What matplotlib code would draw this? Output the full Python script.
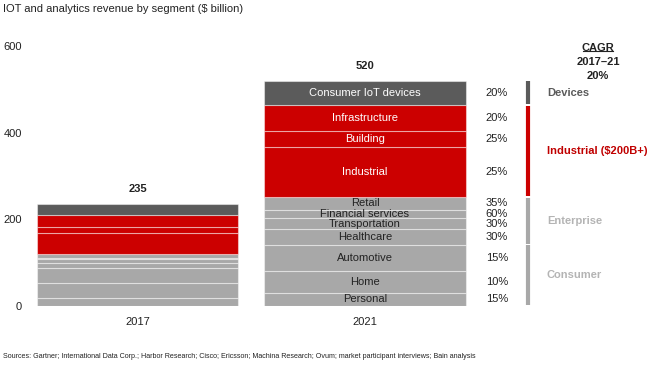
import matplotlib
matplotlib.use("Agg")
from matplotlib import pyplot as plt
from matplotlib.lines import Line2D

plt.rcParams['font.family'] = ['Liberation Sans', 'DejaVu Sans']

#==============================================================================
#                                  Data
#==============================================================================

# segments listed from the top of the stack down
years = ["2017", "2021"]
segments = ["Consumer IoT devices", "Infrastructure", "Building", "Industrial",
            "Retail", "Financial services", "Transportation", "Healthcare",
            "Automotive", "Home", "Personal"]
values2017 = [25, 28, 15, 48, 9, 3, 9, 12, 35, 34, 17]
values2021 = [56, 59, 37, 117, 29, 19, 27, 35, 62, 50, 29]
totals = [235, 520]
cagr = ["20%", "20%", "25%", "25%", "35%", "60%", "30%", "30%", "15%", "10%", "15%"]
groups = ["Devices", "Industrial ($200B+)", "Enterprise", "Consumer"]
groupSizes = [1, 3, 4, 3]  # number of segments in each group

#==============================================================================
#                                  Styles
#==============================================================================

darkGrey = "#5b5b5b"
red = "#cc0000"
lightGrey = "#a8a8a8"
segColors = [darkGrey] + [red] * 3 + [lightGrey] * 7
textColors = ["white"] * 4 + ["#222222"] * 7
groupColors = [darkGrey, "#c00000", "#b4b4b4", "#b4b4b4"]
groupBarColors = [darkGrey, red, lightGrey, lightGrey]

#==============================================================================
#                                  Plot
#==============================================================================

fig = plt.figure(figsize=(6.62, 3.72), dpi=100)
ax = fig.add_axes([30 / 662, 66.5 / 372, 632 / 662, 276.5 / 372])

barWidth = 0.884
allVals = [values2017, values2021]
for i in range(len(years)):
    # stack from the bottom segment (last in list) upward
    bottom = 0
    for j in reversed(range(len(segments))):
        ax.bar(i, allVals[i][j], bottom=bottom, width=barWidth, color=segColors[j],
               edgecolor=(1, 1, 1, 0.45), linewidth=0.8)
        bottom += allVals[i][j]
    ax.annotate(str(totals[i]), (i, bottom), xytext=(0, 7), textcoords="offset points",
                ha="center", va="bottom", fontsize=8, fontweight="bold", color="#222222")

# segment labels and CAGR column for 2021
pctX = 1.58
bottom = 0
for j in reversed(range(len(segments))):
    mid = bottom + values2021[j] / 2
    ax.text(1, mid, segments[j], ha="center", va="center", fontsize=8, color=textColors[j])
    ax.text(pctX, mid, cagr[j], ha="center", va="center", fontsize=8, color="#222222")
    bottom += values2021[j]

# group brackets on the right
lineX = 1.716
labelX = 1.80
top = sum(values2021)
k = 0
for g in range(len(groups)):
    n = groupSizes[g]
    gVal = sum(values2021[k:k + n])
    ax.plot([lineX, lineX], [top - 1.5, top - gVal + 1.5], color=groupBarColors[g],
            linewidth=3, solid_capstyle="butt")
    ax.text(labelX, top - gVal / 2, groups[g], ha="left", va="center", fontsize=8,
            fontweight="bold", color=groupColors[g])
    top -= gVal
    k += n

# CAGR header
ax.text(2.024, 596, "CAGR", ha="center", va="center", fontsize=8, fontweight="bold", color="#222222")
ax.text(2.024, 564, "2017\u201321", ha="center", va="center", fontsize=8, fontweight="bold", color="#222222")
ax.text(2.024, 532, "20%", ha="center", va="center", fontsize=8, fontweight="bold", color="#222222")
fig.add_artist(Line2D([583 / 662, 613 / 662], [1 - 51 / 372, 1 - 51 / 372], color="#222222", linewidth=0.8))

# axes formatting
ax.set_xlim(-0.4725, 2.3055)
ax.set_ylim(0, 640)
ax.set_yticks([0, 200, 400, 600])
ax.set_yticklabels(["0", "200", "400", "600"], fontsize=8, color="#222222")
ax.set_xticks([0, 1])
ax.set_xticklabels(years, fontsize=8, color="#222222")
ax.tick_params(axis="y", length=0, pad=6)
ax.tick_params(axis="x", length=0, pad=8)
for s in ax.spines.values():
    s.set_visible(False)

# title and sources
fig.text(3 / 662, 1 - 9 / 372, "IOT and analytics revenue by segment ($ billion)",
         ha="left", va="center", fontsize=8, color="#222222")
fig.text(3 / 662, 1 - 356 / 372, "Sources: Gartner; International Data Corp.; Harbor Research; Cisco; Ericsson; "
         "Machina Research; Ovum; market participant interviews; Bain analysis",
         ha="left", va="center", fontsize=5.1, color="#222222")

fig.savefig("out.png", dpi=100)
